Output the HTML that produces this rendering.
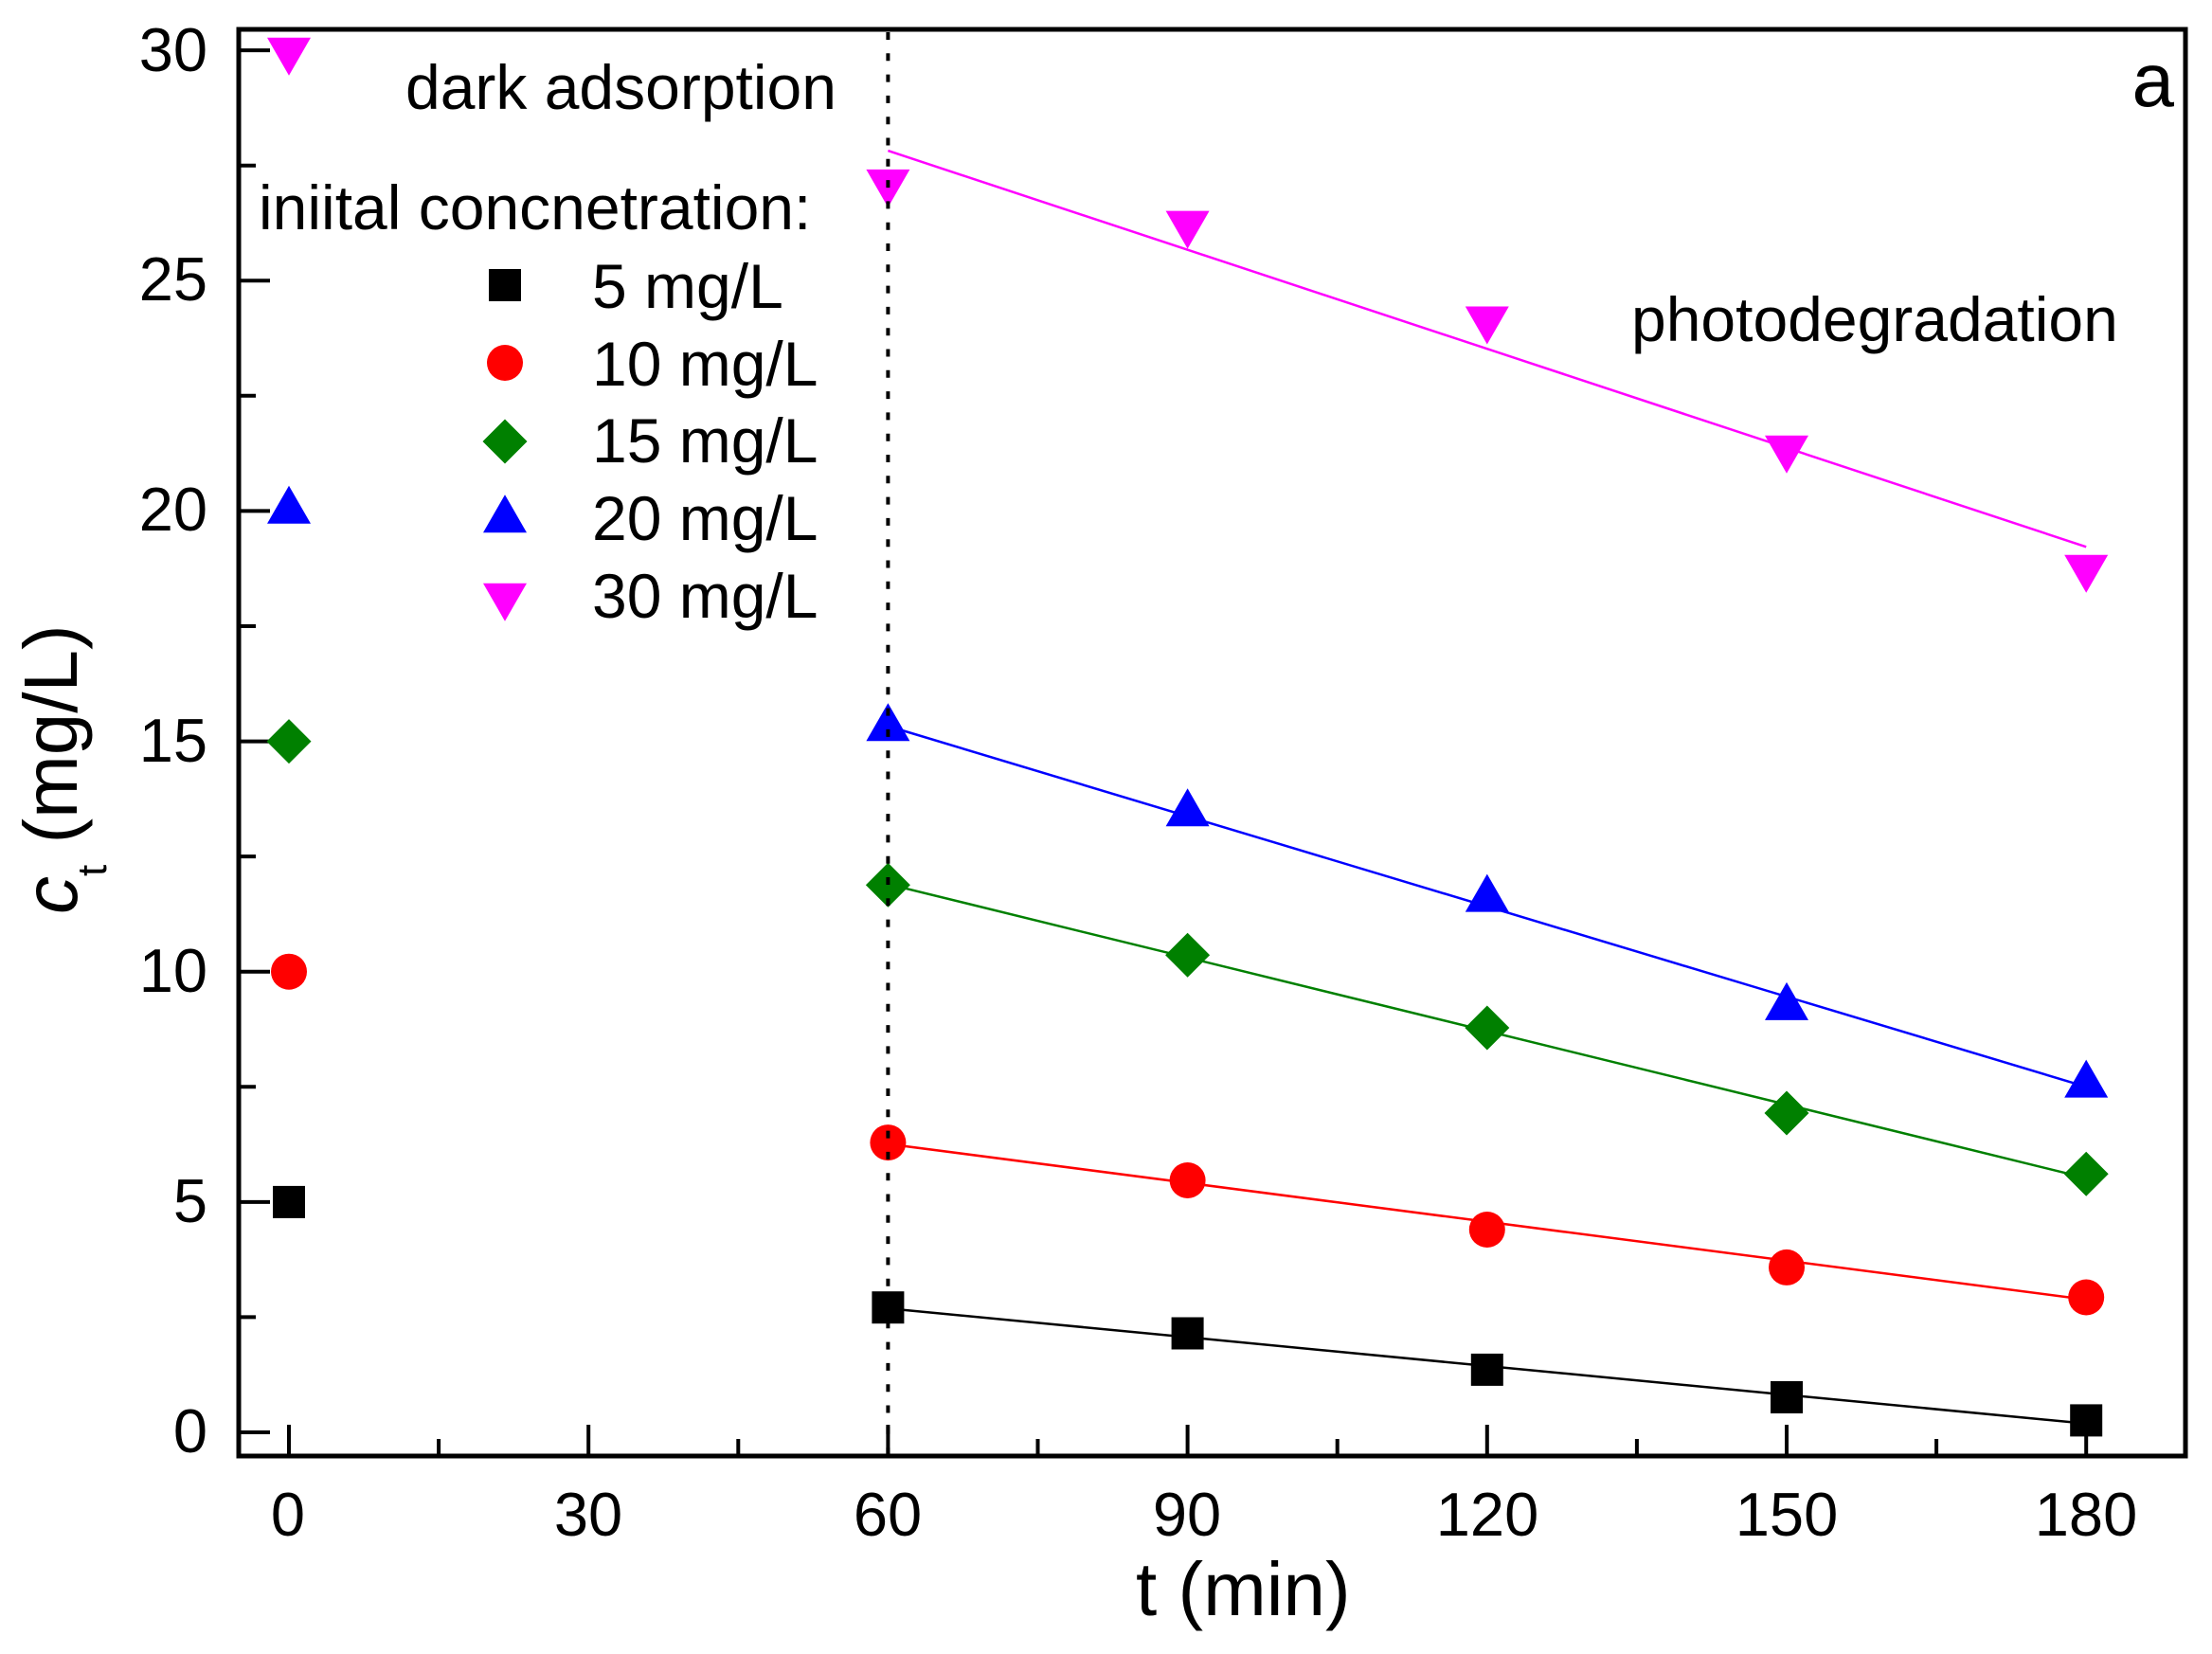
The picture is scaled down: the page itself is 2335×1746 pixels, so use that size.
<!DOCTYPE html>
<html>
<head>
<meta charset="utf-8">
<style>
html,body{margin:0;padding:0;background:#fff;}
svg{display:block;}
text{font-family:"Liberation Sans",Arial,sans-serif;fill:#000;}
</style>
</head>
<body>
<svg width="2335" height="1746" viewBox="0 0 2335 1746" xmlns="http://www.w3.org/2000/svg">
<rect x="0" y="0" width="2335" height="1746" fill="#fff"/>

<!-- y ticks (inside) -->
<g stroke="#000" stroke-width="4">
  <line x1="252" y1="1512" x2="285" y2="1512"/>
  <line x1="252" y1="1268.9" x2="285" y2="1268.9"/>
  <line x1="252" y1="1025.7" x2="285" y2="1025.7"/>
  <line x1="252" y1="782.6" x2="285" y2="782.6"/>
  <line x1="252" y1="539.4" x2="285" y2="539.4"/>
  <line x1="252" y1="296.3" x2="285" y2="296.3"/>
  <line x1="252" y1="53.1" x2="285" y2="53.1"/>
  <line x1="252" y1="1390.4" x2="270" y2="1390.4"/>
  <line x1="252" y1="1147.3" x2="270" y2="1147.3"/>
  <line x1="252" y1="904.1" x2="270" y2="904.1"/>
  <line x1="252" y1="661.0" x2="270" y2="661.0"/>
  <line x1="252" y1="417.8" x2="270" y2="417.8"/>
  <line x1="252" y1="174.7" x2="270" y2="174.7"/>
</g>
<!-- x ticks (inside) -->
<g stroke="#000" stroke-width="4">
  <line x1="305" y1="1537" x2="305" y2="1504"/>
  <line x1="621.2" y1="1537" x2="621.2" y2="1504"/>
  <line x1="937.4" y1="1537" x2="937.4" y2="1504"/>
  <line x1="1253.6" y1="1537" x2="1253.6" y2="1504"/>
  <line x1="1569.8" y1="1537" x2="1569.8" y2="1504"/>
  <line x1="1886" y1="1537" x2="1886" y2="1504"/>
  <line x1="2202.2" y1="1537" x2="2202.2" y2="1504"/>
  <line x1="463.1" y1="1537" x2="463.1" y2="1519"/>
  <line x1="779.3" y1="1537" x2="779.3" y2="1519"/>
  <line x1="1095.5" y1="1537" x2="1095.5" y2="1519"/>
  <line x1="1411.7" y1="1537" x2="1411.7" y2="1519"/>
  <line x1="1727.9" y1="1537" x2="1727.9" y2="1519"/>
  <line x1="2044.1" y1="1537" x2="2044.1" y2="1519"/>
</g>

<!-- frame -->
<rect x="252" y="31" width="2055" height="1506" fill="none" stroke="#000" stroke-width="5"/>

<!-- y tick labels -->
<g font-size="65" text-anchor="end">
  <text x="219" y="1533">0</text>
  <text x="219" y="1290">5</text>
  <text x="219" y="1047">10</text>
  <text x="219" y="804">15</text>
  <text x="219" y="560">20</text>
  <text x="219" y="317">25</text>
  <text x="219" y="75">30</text>
</g>
<!-- x tick labels -->
<g font-size="65" text-anchor="middle">
  <text x="304" y="1621">0</text>
  <text x="621" y="1621">30</text>
  <text x="937" y="1621">60</text>
  <text x="1253" y="1621">90</text>
  <text x="1570" y="1621">120</text>
  <text x="1886" y="1621">150</text>
  <text x="2202" y="1621">180</text>
</g>

<!-- axis titles -->
<text x="1199" y="1705" font-size="80">t (min)</text>
<text transform="translate(81,965) rotate(-90)" font-size="80"><tspan font-style="italic">c</tspan><tspan font-size="44" dy="31">t</tspan><tspan dy="-31"> (mg/L)</tspan></text>

<!-- fit lines -->
<g stroke-width="2.5" fill="none">
  <line x1="937.4" y1="1381.2" x2="2202.2" y2="1502.8" stroke="#000"/>
  <line x1="937.4" y1="1207.6" x2="2202.2" y2="1371.9" stroke="#ff0000"/>
  <line x1="937.4" y1="933.3" x2="2202.2" y2="1243.6" stroke="#008000"/>
  <line x1="937.4" y1="766.5" x2="2202.2" y2="1147.3" stroke="#0000ff"/>
  <line x1="937.4" y1="159.1" x2="2202.2" y2="577.3" stroke="#ff00ff"/>
</g>

<!-- black squares -->
<g fill="#000">
  <rect x="288" y="1251.9" width="34" height="34"/>
  <rect x="920.4" y="1363.2" width="34" height="34"/>
  <rect x="1236.6" y="1390.5" width="34" height="34"/>
  <rect x="1552.8" y="1428.9" width="34" height="34"/>
  <rect x="1869" y="1458" width="34" height="34"/>
  <rect x="2185.2" y="1482.4" width="34" height="34"/>
</g>
<!-- red circles -->
<g fill="#ff0000">
  <circle cx="305" cy="1025.7" r="19"/>
  <circle cx="937.4" cy="1206.1" r="19"/>
  <circle cx="1253.6" cy="1246.0" r="19"/>
  <circle cx="1569.8" cy="1298.0" r="19"/>
  <circle cx="1886" cy="1337.9" r="19"/>
  <circle cx="2202.2" cy="1369.5" r="19"/>
</g>
<!-- green diamonds -->
<g fill="#008000">
  <polygon points="305,759.1 328.5,782.6 305,806.1 281.5,782.6"/>
  <polygon points="937.4,910.8 960.9,934.3 937.4,957.8 913.9,934.3"/>
  <polygon points="1253.6,984.7 1277.1,1008.2 1253.6,1031.7 1230.1,1008.2"/>
  <polygon points="1569.8,1061.5 1593.3,1085 1569.8,1108.5 1546.3,1085"/>
  <polygon points="1886,1151.5 1909.5,1175 1886,1198.5 1862.5,1175"/>
  <polygon points="2202.2,1215.7 2225.7,1239.2 2202.2,1262.7 2178.7,1239.2"/>
</g>
<!-- blue up triangles -->
<g fill="#0000ff">
  <polygon points="305,512.7 282,552.7 328,552.7"/>
  <polygon points="937.4,742.2 914.4,782.2 960.4,782.2"/>
  <polygon points="1253.6,832.2 1230.6,872.2 1276.6,872.2"/>
  <polygon points="1569.8,922.6 1546.8,962.6 1592.8,962.6"/>
  <polygon points="1886,1036.9 1863,1076.9 1909,1076.9"/>
  <polygon points="2202.2,1118.6 2179.2,1158.6 2225.2,1158.6"/>
</g>
<!-- magenta down triangles -->
<g fill="#ff00ff">
  <polygon points="282,39.8 328,39.8 305,79.8"/>
  <polygon points="914.4,178.9 960.4,178.9 937.4,218.9"/>
  <polygon points="1230.6,222.6 1276.6,222.6 1253.6,262.6"/>
  <polygon points="1546.8,323.5 1592.8,323.5 1569.8,363.5"/>
  <polygon points="1863,459.7 1909,459.7 1886,499.7"/>
  <polygon points="2179.2,585.7 2225.2,585.7 2202.2,625.7"/>
</g>

<!-- dotted vertical line at t=60 -->
<line x1="937.4" y1="34" x2="937.4" y2="1535" stroke="#000" stroke-width="4" stroke-dasharray="8 14.3"/>

<!-- annotations -->
<g font-size="66">
  <text x="428" y="115">dark adsorption</text>
  <text x="273" y="242">iniital concnetration:</text>
  <text x="1722" y="360">photodegradation</text>
  <text x="625" y="325">5 mg/L</text>
  <text x="625" y="407">10 mg/L</text>
  <text x="625" y="488">15 mg/L</text>
  <text x="625" y="570">20 mg/L</text>
  <text x="625" y="652">30 mg/L</text>
</g>
<text x="2295" y="112" font-size="80" text-anchor="end">a</text>

<!-- legend symbols -->
<rect x="516" y="284" width="34" height="34" fill="#000"/>
<circle cx="533" cy="383" r="19" fill="#ff0000"/>
<polygon points="533,442.5 556.5,466 533,489.5 509.5,466" fill="#008000"/>
<polygon points="533,522.3 510,562.3 556,562.3" fill="#0000ff"/>
<polygon points="510,615.7 556,615.7 533,655.7" fill="#ff00ff"/>
</svg>
</body>
</html>
